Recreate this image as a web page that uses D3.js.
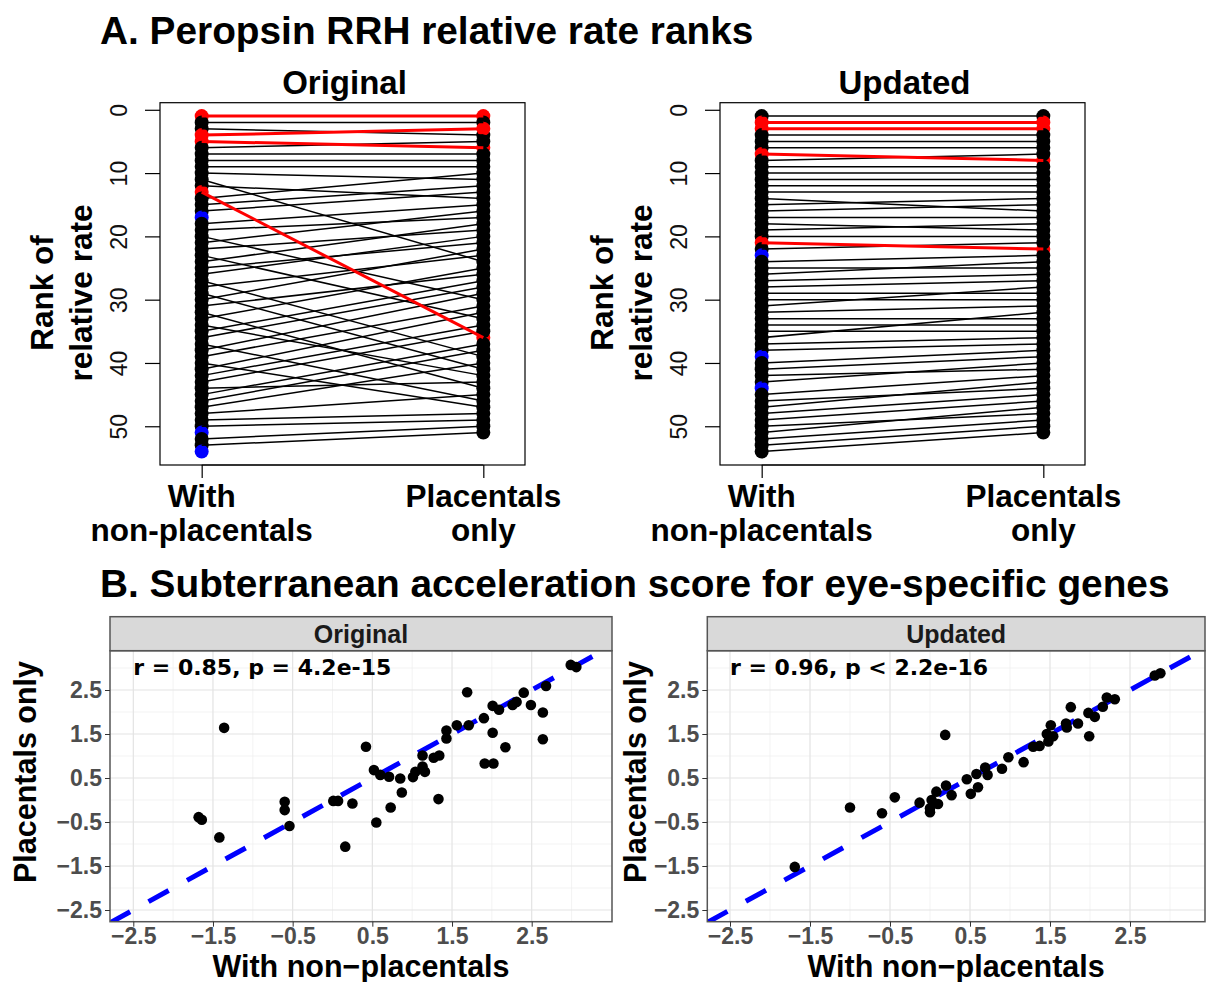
<!DOCTYPE html>
<html>
<head>
<meta charset="utf-8">
<title>Peropsin RRH ranks | Subterranean acceleration</title>
<script src="https://d3js.org/d3.v7.min.js"></script>
<style>
    body {
        margin: 0;
        background: #ffffff;
        font-family: "Liberation Sans", Arial, sans-serif;
    }
    .main-title { font-size: 38.8px; font-weight: bold; fill: #000; }
    .sub-title { font-size: 33px; font-weight: bold; fill: #000; }
    .rank-label { font-size: 31.5px; font-weight: bold; fill: #000; }
    .rank-tick text { font-size: 23px; fill: #111; }
    .b-axis text { font-size: 23px; font-weight: bold; fill: #4d4d4d; font-family: "Liberation Sans", Arial, sans-serif; }
    .b-axis line { stroke: #333; }
    .b-title { font-size: 30.5px; font-weight: bold; fill: #000; }
    .strip-text { font-size: 25px; font-weight: bold; fill: #1a1a1a; }
    .stat-text { font-size: 22px; font-weight: bold; fill: #000; font-family: "DejaVu Sans", sans-serif; }
</style>
</head>
<body>
<div id="chart"></div>
<script>
// ---- A: rank of relative rate ----
// rank with placentals only, listed by rank with non-placentals (1..54); null = not ranked there
const origPlacentalRank = [1, 2, 4, 3, 6, 5, 7, 8, 9, 11,
    24, 14, 36, 10, 12, 13, null, 15, 17, 30,
    16, 19, 33, 18, 21, 20, 39, 23, 41, 22,
    26, 44, 25, 42, 27, 28, 46, 29, 31, 47,
    32, 34, 35, 43, 37, 38, 40, 45, 48, 49,
    null, 50, 51, null];
const origRed = [1, 4, 5, 13];
const origBlue = [17, 51, 54];

const updPlacentalRank = [1, 2, 3, 4, 5, 6, 8, 7, 9, 10,
    11, 12, 13, 16, 14, 15, 17, 19, 18, 20,
    22, 21, null, 23, 25, 24, 26, 27, 29, 30,
    28, 31, 33, 34, 35, 32, 36, 37, null, 38,
    39, 41, 40, null, 42, 44, 43, 45, 46, 48,
    47, 49, 50, 51];
const updRed = [2, 3, 7, 21];
const updBlue = [23, 39, 44];

const rankTicks = [0, 10, 20, 30, 40, 50];
const groupLabels = [["With", "non-placentals"], ["Placentals", "only"]];

// ---- B: acceleration scores ----
const origWithNon = [2.99, 3.06, 2.68, 1.69, 2.40, 2.31, 2.26, 2.01, 2.09, 2.49,
    2.64, 1.90, 1.71, 1.56, 1.43, 1.43, 2.01, 2.64, 2.17, -1.36,
    0.42, 1.34, 1.27, 1.13, 1.91, 2.02, 1.13, 1.16, 1.04, 1.01,
    0.85, 0.52, 0.60, 0.71, 0.87, 0.73, 1.33, 0.55, 0.16, 0.25,
    0.01, 0.07, -0.60, -0.60, -0.54, -1.68, -1.64, -1.42];
const origPlacOnly = [3.07, 3.02, 2.59, 2.45, 2.44, 2.23, 2.16, 2.14, 2.05, 2.16,
    1.99, 1.86, 1.70, 1.70, 1.58, 1.40, 1.53, 1.38, 1.20, 1.64,
    1.21, 1.01, 0.96, 1.01, 0.83, 0.83, 0.76, 0.64, 0.64, 0.52,
    0.49, 0.68, 0.57, 0.53, 0.17, -0.17, 0.02, -0.51, -1.06, -0.08,
    -0.02, -0.02, -0.04, -0.23, -0.59, -0.39, -0.45, -0.85];

const updWithNon = [2.81, 2.88, 2.21, 2.31, 2.16, 1.76, 1.98, 2.06, 1.85, 1.70,
    1.71, 1.51, 1.99, 1.46, 1.54, 1.48, 1.37, 1.29, 0.19, 0.98,
    1.17, 0.90, 0.69, 0.72, 0.58, 0.46, 0.60, 0.51, 0.20, 0.27,
    0.08, 0.02, 0.10, -0.13, 0.00, 0.00, -0.44, -0.60, -1.00, -1.69];
const updPlacOnly = [2.83, 2.88, 2.33, 2.29, 2.12, 2.11, 1.98, 1.89, 1.74, 1.74,
    1.65, 1.70, 1.45, 1.50, 1.45, 1.33, 1.23, 1.21, 1.48, 0.97,
    0.86, 0.71, 0.74, 0.57, 0.59, 0.47, 0.29, 0.14, 0.33, 0.11,
    0.19, 0.00, -0.09, -0.06, -0.19, -0.28, 0.06, -0.30, -0.17, -1.52];

const scoreTicks = [-2.5, -1.5, -0.5, 0.5, 1.5, 2.5];
const scoreMinor = [-2, -1, 0, 1, 2, 3];

const width = 1206;
const height = 982;

const svg = d3.select('#chart').append('svg')
    .attr('width', width)
    .attr('height', height)
    .style('display', 'block');

svg.append('rect').attr('width', width).attr('height', height).attr('fill', '#fff');

svg.append('text').attr('class', 'main-title')
    .attr('x', 100).attr('y', 44)
    .text('A. Peropsin RRH relative rate ranks');

svg.append('text').attr('class', 'main-title')
    .attr('x', 100).attr('y', 597)
    .text('B. Subterranean acceleration score for eye-specific genes');

const rankPanel = (left, placRank, red, blue, title) => {
    const boxW = 365;
    const top = 102.7, bottom = 465;
    const x = d3.scaleLinear().domain([0.852, 2.148]).range([left, left + boxW]);
    const y = d3.scaleLinear().domain([-1.12, 56.12]).range([top, bottom]);

    const genes = placRank.map((r, i) => ({
        withNon: i + 1,
        plac: r,
        color: red.includes(i + 1) ? '#ff0000' : blue.includes(i + 1) ? '#0000ff' : '#000000'
    }));

    const g = svg.append('g');

    g.append('text').attr('class', 'sub-title')
        .attr('x', left + boxW / 2 + 2).attr('y', 94)
        .attr('text-anchor', 'middle')
        .text(title);

    // points, in gene order for each column
    g.selectAll('.pt-left').data(genes)
        .enter().append('circle')
        .attr('cx', x(1))
        .attr('cy', d => y(d.withNon))
        .attr('r', 7)
        .attr('fill', d => d.color);

    g.selectAll('.pt-right').data(genes.filter(d => d.plac !== null))
        .enter().append('circle')
        .attr('cx', x(2))
        .attr('cy', d => y(d.plac))
        .attr('r', 7)
        .attr('fill', d => d.color);

    const linked = genes.filter(d => d.plac !== null);
    g.selectAll('.seg-black').data(linked.filter(d => d.color === '#000000'))
        .enter().append('line')
        .attr('x1', x(1)).attr('x2', x(2))
        .attr('y1', d => y(d.withNon))
        .attr('y2', d => y(d.plac))
        .attr('stroke', '#000')
        .attr('stroke-width', 1.5);

    g.selectAll('.seg-red').data(linked.filter(d => d.color === '#ff0000'))
        .enter().append('line')
        .attr('x1', x(1)).attr('x2', x(2))
        .attr('y1', d => y(d.withNon))
        .attr('y2', d => y(d.plac))
        .attr('stroke', '#ff0000')
        .attr('stroke-width', 3);

    g.append('rect')
        .attr('x', left).attr('y', top)
        .attr('width', boxW).attr('height', bottom - top)
        .attr('fill', 'none')
        .attr('stroke', '#000')
        .attr('stroke-width', 1.2);

    const yAxisG = g.append('g')
        .attr('class', 'rank-tick')
        .attr('transform', `translate(${left},0)`)
        .call(d3.axisLeft(y).tickValues(rankTicks).tickSize(15).tickSizeOuter(0));
    yAxisG.select('.domain').remove();
    yAxisG.selectAll('line').attr('stroke', '#000').attr('stroke-width', 1.2);
    yAxisG.selectAll('text')
        .attr('x', null).attr('dy', null)
        .attr('font-family', '"Liberation Sans", Arial, sans-serif')
        .attr('text-anchor', 'middle')
        .attr('transform', 'translate(-33,0) rotate(-90)');

    const xAxisG = g.append('g')
        .attr('transform', `translate(0,${bottom})`)
        .call(d3.axisBottom(x).tickValues([1, 2]).tickSize(13).tickFormat(''));
    xAxisG.select('.domain').attr('d', `M${x(1)},0H${x(2)}`).attr('stroke', '#000').attr('stroke-width', 1.2);
    xAxisG.selectAll('line').attr('stroke', '#000').attr('stroke-width', 1.2);

    groupLabels.forEach((lines, i) => {
        lines.forEach((t, j) => {
            g.append('text').attr('class', 'rank-label')
                .attr('x', x(i + 1)).attr('y', 507 + j * 34)
                .attr('text-anchor', 'middle')
                .text(t);
        });
    });

    ['Rank of', 'relative rate'].forEach((t, j) => {
        g.append('text').attr('class', 'rank-label')
            .attr('transform', `translate(${left - 107 + j * 39},293) rotate(-90)`)
            .attr('text-anchor', 'middle')
            .text(t);
    });
};

rankPanel(160, origPlacentalRank, origRed, origBlue, 'Original');
rankPanel(720, updPlacentalRank, updRed, updBlue, 'Updated');

const scorePanel = (left, right, tickLeft, tickRight, titleX, xs, ys, label, stat, id) => {
    const stripTop = 616.7, top = 650.7, bottom = 921.7;
    const x = d3.scaleLinear().domain([-2.5, 2.5]).range([tickLeft, tickRight]);
    const y = d3.scaleLinear().domain([-2.5, 2.5]).range([910, 690]);
    const pts = xs.map((v, i) => ({ x: v, y: ys[i] }));
    const xMin = x.invert(left), xMax = x.invert(right);
    const yMin = y.invert(bottom), yMax = y.invert(top);

    const g = svg.append('g');

    g.append('clipPath').attr('id', id)
        .append('rect')
        .attr('x', left).attr('y', top)
        .attr('width', right - left).attr('height', bottom - top);

    g.append('rect')
        .attr('x', left).attr('y', top)
        .attr('width', right - left).attr('height', bottom - top)
        .attr('fill', '#fff');

    const grid = g.append('g');
    grid.selectAll('.gx-minor').data(scoreMinor.filter(v => v > xMin && v < xMax))
        .enter().append('line')
        .attr('x1', d => x(d)).attr('x2', d => x(d))
        .attr('y1', top).attr('y2', bottom)
        .attr('stroke', '#f0f0f0').attr('stroke-width', 0.8);
    grid.selectAll('.gy-minor').data(scoreMinor.filter(v => v > yMin && v < yMax))
        .enter().append('line')
        .attr('y1', d => y(d)).attr('y2', d => y(d))
        .attr('x1', left).attr('x2', right)
        .attr('stroke', '#f0f0f0').attr('stroke-width', 0.8);
    grid.selectAll('.gx').data(scoreTicks)
        .enter().append('line')
        .attr('x1', d => x(d)).attr('x2', d => x(d))
        .attr('y1', top).attr('y2', bottom)
        .attr('stroke', '#e3e3e3').attr('stroke-width', 1.2);
    grid.selectAll('.gy').data(scoreTicks)
        .enter().append('line')
        .attr('y1', d => y(d)).attr('y2', d => y(d))
        .attr('x1', left).attr('x2', right)
        .attr('stroke', '#e3e3e3').attr('stroke-width', 1.2);

    // y = x reference line
    g.append('line')
        .attr('clip-path', `url(#${id})`)
        .attr('x1', x(xMin)).attr('y1', y(xMin))
        .attr('x2', x(xMax)).attr('y2', y(xMax))
        .attr('stroke', '#0000ff')
        .attr('stroke-width', 5)
        .attr('stroke-dasharray', '23,21');

    g.selectAll('.dot').data(pts)
        .enter().append('circle')
        .attr('clip-path', `url(#${id})`)
        .attr('cx', d => x(d.x))
        .attr('cy', d => y(d.y))
        .attr('r', 5.3)
        .attr('fill', '#000');

    g.append('rect')
        .attr('x', left).attr('y', top)
        .attr('width', right - left).attr('height', bottom - top)
        .attr('fill', 'none')
        .attr('stroke', '#555')
        .attr('stroke-width', 1.5);

    g.append('rect')
        .attr('x', left).attr('y', stripTop)
        .attr('width', right - left).attr('height', top - stripTop)
        .attr('fill', '#d9d9d9')
        .attr('stroke', '#555')
        .attr('stroke-width', 1.5);

    g.append('text').attr('class', 'strip-text')
        .attr('x', (left + right) / 2).attr('y', 643)
        .attr('text-anchor', 'middle')
        .text(label);

    g.append('text').attr('class', 'stat-text')
        .attr('x', x(-2.5)).attr('y', 675)
        .text(stat);

    const yAxisG = g.append('g')
        .attr('class', 'b-axis')
        .attr('transform', `translate(${left},0)`)
        .call(d3.axisLeft(y).tickValues(scoreTicks).tickSize(5).tickPadding(3).tickFormat(d3.format('.1f')));
    yAxisG.select('.domain').remove();

    const xAxisG = g.append('g')
        .attr('class', 'b-axis')
        .attr('transform', `translate(0,${bottom})`)
        .call(d3.axisBottom(x).tickValues(scoreTicks).tickSize(5).tickPadding(1).tickFormat(d3.format('.1f')));
    xAxisG.select('.domain').remove();

    g.append('text').attr('class', 'b-title')
        .attr('x', (left + right) / 2).attr('y', 977)
        .attr('text-anchor', 'middle')
        .text('With non\u2212placentals');

    g.append('text').attr('class', 'b-title')
        .attr('transform', `translate(${titleX},772) rotate(-90)`)
        .attr('text-anchor', 'middle')
        .text('Placentals only');
};

scorePanel(110, 612, 133.3, 531.7, 36, origWithNon, origPlacOnly, 'Original', 'r = 0.85, p = 4.2e-15', 'clipOrig');
scorePanel(707.3, 1205, 730, 1130, 646, updWithNon, updPlacOnly, 'Updated', 'r = 0.96, p < 2.2e-16', 'clipUpd');
</script>
</body>
</html>
